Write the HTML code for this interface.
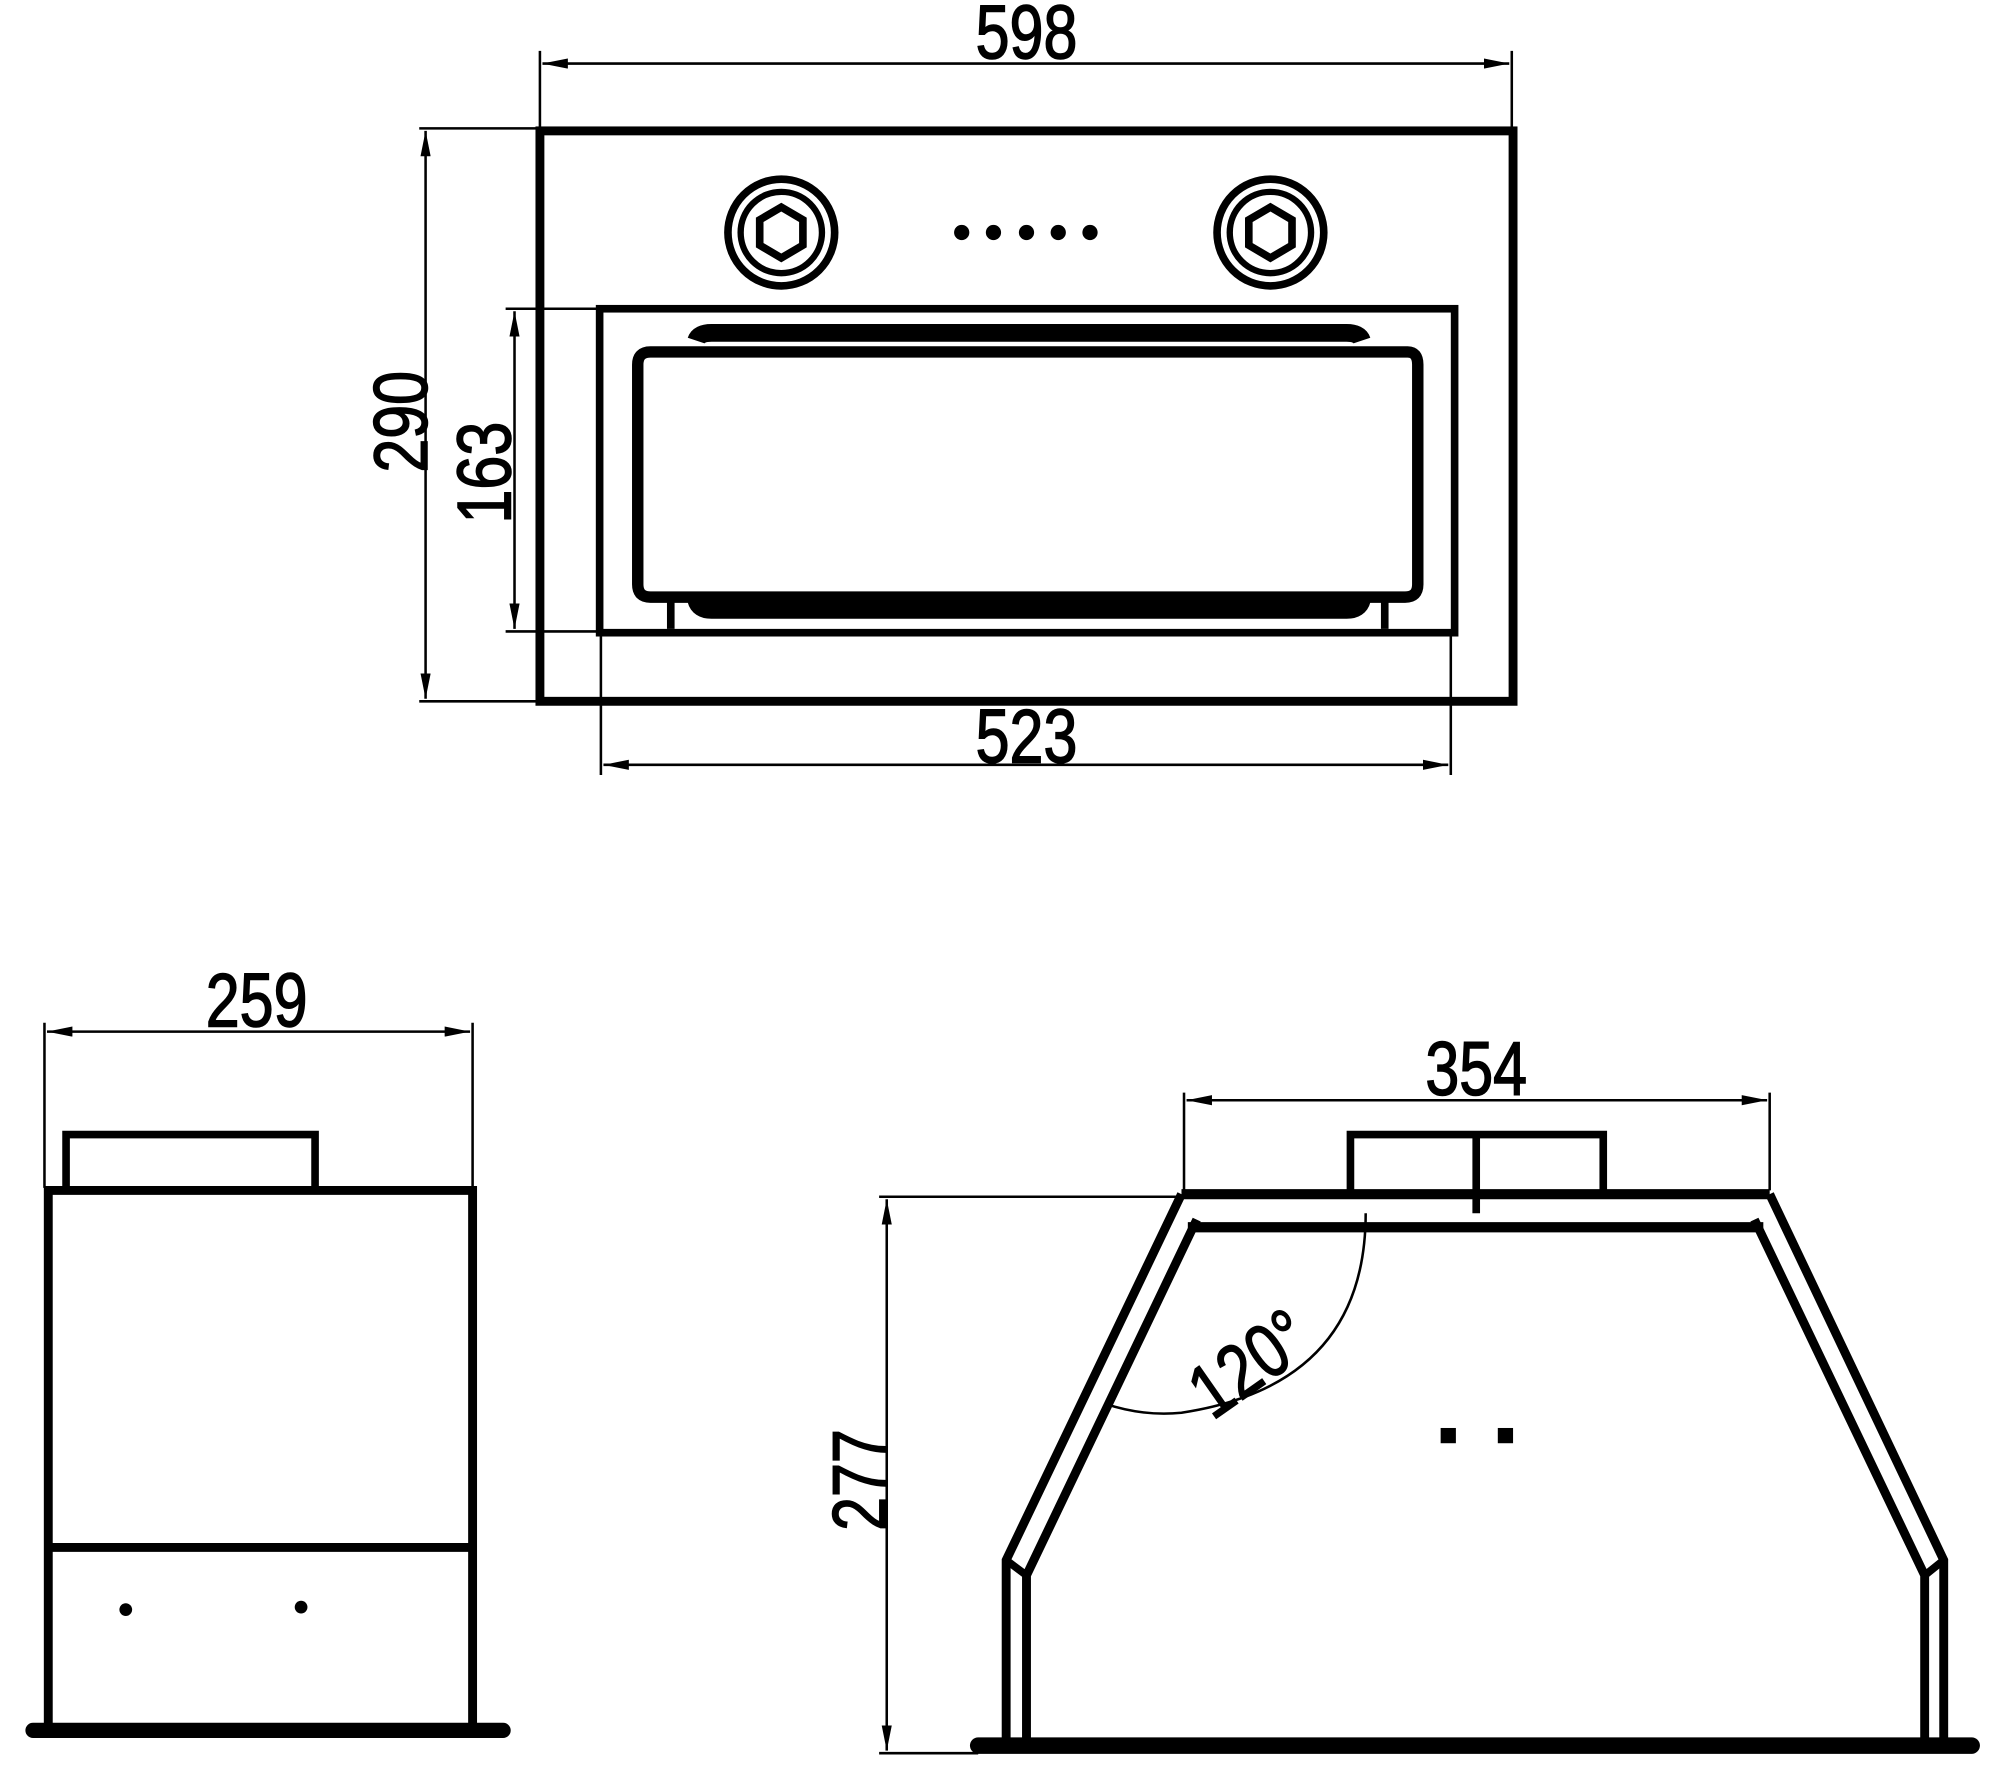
<!DOCTYPE html>
<html><head><style>
html,body{margin:0;padding:0;background:#fff;}
svg{display:block;}
text{font-family:"Liberation Sans",sans-serif;fill:#000;stroke:#000;stroke-width:1.2;}
</style></head><body>
<svg width="1992" height="1785" viewBox="0 0 1568 1405" xmlns="http://www.w3.org/2000/svg">
<defs>
<marker id="a" viewBox="0 0 20 8" refX="20" refY="4" markerWidth="20" markerHeight="8" markerUnits="userSpaceOnUse" orient="auto-start-reverse"><path d="M0,0 L20,4 L0,8 Z" fill="#000"/></marker>
</defs>
<g fill="none" stroke="#000">
<rect x="425" y="103" width="766" height="449" stroke-width="7"/>
<rect x="472" y="243" width="673" height="255" stroke-width="6"/>
<path d="M512,277 H1108 Q1116,277 1116,287 V460 Q1116,470 1106,470 H512 Q502,470 502,460 V287 Q502,277 512,277 Z" stroke-width="9"/>
<path d="M548,268 Q550,262 560,262 H1060 Q1070,262 1072,268" stroke-width="14"/>
<path d="M548,472 Q550,480 560,480 H1060 Q1070,480 1072,472" stroke-width="14"/>
<path d="M528,470 V495 M1090,470 V495" stroke-width="6"/>
<circle cx="615" cy="183" r="42" stroke-width="6"/><circle cx="615" cy="183" r="32" stroke-width="5"/>
<polygon points="615,163 632,173 632,193 615,203 598,193 598,173" stroke-width="6"/>
<circle cx="1000" cy="183" r="42" stroke-width="6"/><circle cx="1000" cy="183" r="32" stroke-width="5"/>
<polygon points="1000,163 1017,173 1017,193 1000,203 983,193 983,173" stroke-width="6"/>
<path d="M425,40 V101 M1190,40 V101" stroke-width="2"/>
<line x1="427" y1="50" x2="1188" y2="50" stroke-width="2" marker-start="url(#a)" marker-end="url(#a)"/>
<path d="M330,101 H425 M330,552 H425" stroke-width="2"/>
<line x1="335" y1="103" x2="335" y2="550" stroke-width="2" marker-start="url(#a)" marker-end="url(#a)"/>
<path d="M398,243 H472 M398,497 H472" stroke-width="2"/>
<line x1="405" y1="245" x2="405" y2="495" stroke-width="2" marker-start="url(#a)" marker-end="url(#a)"/>
<path d="M473,498 V610 M1142,498 V610" stroke-width="2"/>
<line x1="475" y1="602" x2="1140" y2="602" stroke-width="2" marker-start="url(#a)" marker-end="url(#a)"/>
<path d="M38,1360 V937 H372 V1360" stroke-width="7"/>
<path d="M52,935 V893 H248 V935" stroke-width="6"/>
<line x1="38" y1="1218" x2="372" y2="1218" stroke-width="7"/>
<line x1="26" y1="1362" x2="396" y2="1362" stroke-width="12" stroke-linecap="round"/>
<path d="M35,805 V935 M372,805 V935" stroke-width="2"/>
<line x1="37" y1="812" x2="370" y2="812" stroke-width="2" marker-start="url(#a)" marker-end="url(#a)"/>
<path d="M1063,937 V893 H1262 V937 M1162,893 V955" stroke-width="6"/>
<path d="M930,940 H1393 M935,966 H1388" stroke-width="8"/>
<path d="M930,940 L792,1228 V1368 M942,960 L808,1240 V1368" stroke-width="7"/>
<path d="M1393,940 L1530,1228 V1368 M1381,960 L1515,1240 V1368" stroke-width="7"/>
<path d="M792,1228 L808,1240 M1530,1228 L1515,1240" stroke-width="6"/>
<line x1="770" y1="1374" x2="1552" y2="1374" stroke-width="13" stroke-linecap="round"/>
<path d="M1075,955 Q1075,1090 930,1112 Q900,1115 870,1105" stroke-width="2"/>
<path d="M932,860 V937 M1393,860 V937" stroke-width="2"/>
<line x1="934" y1="866" x2="1391" y2="866" stroke-width="2" marker-start="url(#a)" marker-end="url(#a)"/>
<path d="M692,942 H930 M692,1380 H770" stroke-width="2"/>
<line x1="698" y1="944" x2="698" y2="1378" stroke-width="2" marker-start="url(#a)" marker-end="url(#a)"/>
</g>
<g fill="#000">
<circle cx="757" cy="183" r="6"/><circle cx="782" cy="183" r="6"/><circle cx="808" cy="183" r="6"/><circle cx="833" cy="183" r="6"/><circle cx="858" cy="183" r="6"/>
<circle cx="99" cy="1267" r="5"/><circle cx="237" cy="1265" r="5"/>
<rect x="1134" y="1124" width="12" height="12"/><rect x="1179" y="1124" width="12" height="12"/>
</g>
<g font-size="60" text-anchor="middle">
<text transform="translate(808,46) scale(0.8,1)">598</text>
<text transform="translate(808,600) scale(0.8,1)">523</text>
<text transform="translate(202,808) scale(0.8,1)">259</text>
<text transform="translate(1162,862) scale(0.8,1)">354</text>
<text transform="translate(336,332) rotate(-90) scale(0.8,1)">290</text>
<text transform="translate(402,372) rotate(-90) scale(0.8,1)">163</text>
<text transform="translate(697,1165) rotate(-90) scale(0.8,1)">277</text>
<text transform="translate(995,1090) rotate(-35) scale(0.8,1)">120°</text>
</g>
</svg>
</body></html>
